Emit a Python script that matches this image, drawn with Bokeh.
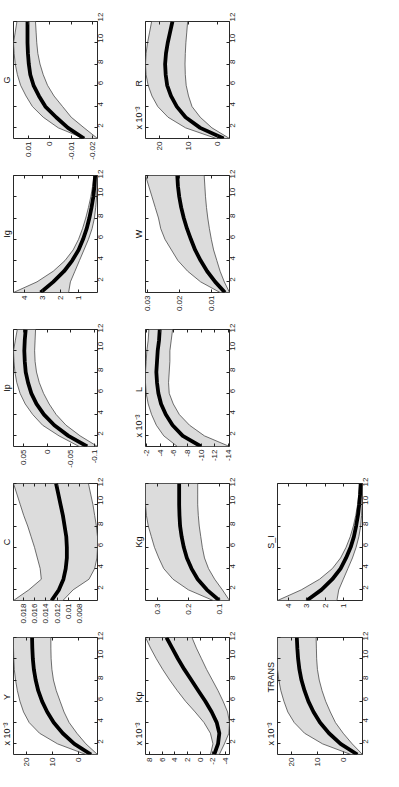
import math
from bokeh.plotting import figure
from bokeh.layouts import row, column
from bokeh.models import (Range1d, FixedTicker, Spacer, PrintfTickFormatter,
                          LinearAxis, CustomJSTickFormatter)
from bokeh.embed import file_html
from bokeh.resources import INLINE

# horizon (quarters) and its ticks
H = list(range(1, 13))
H_ticks = [2, 4, 6, 8, 10, 12]

# ---- row 1 of original figure ----
Y_hi = [-3.0, 8.0, 15.0, 19.0, 21.2, 22.6, 23.6, 24.3, 24.8, 25.0, 25.1, 25.1]
Y_med = [-5.0, 1.5, 6.0, 9.5, 12.0, 14.0, 15.5, 16.5, 17.2, 17.6, 17.8, 17.9]
Y_lo = [-7.5, -3.0, 0.5, 3.5, 5.5, 7.0, 8.5, 9.6, 10.2, 10.5, 10.6, 10.6]
Y_ticks = [0, 10, 20]

C_hi = [0.0197, 0.0170, 0.0148, 0.0150, 0.0155, 0.0160, 0.0166, 0.0172, 0.0179, 0.0185, 0.0191, 0.0197]
C_med = [0.0130, 0.0117, 0.0109, 0.0105, 0.0103, 0.0103, 0.0104, 0.0107, 0.0110, 0.0114, 0.0118, 0.0122]
C_lo = [0.0110, 0.0092, 0.0064, 0.0054, 0.0050, 0.0049, 0.0049, 0.0051, 0.0054, 0.0057, 0.0061, 0.0065]
C_ticks = [0.008, 0.01, 0.012, 0.014, 0.016, 0.018]

Ip_hi = [-0.068, -0.025, 0.010, 0.031, 0.047, 0.058, 0.065, 0.069, 0.071, 0.072, 0.068, 0.064]
Ip_med = [-0.085, -0.045, -0.015, 0.007, 0.023, 0.034, 0.041, 0.046, 0.048, 0.049, 0.048, 0.046]
Ip_lo = [-0.107, -0.070, -0.040, -0.019, -0.004, 0.008, 0.017, 0.023, 0.026, 0.027, 0.026, 0.025]
Ip_ticks = [-0.1, -0.05, 0, 0.05]

Ig_hi = [4.6, 3.3, 2.4, 1.75, 1.3, 1.0, 0.78, 0.6, 0.45, 0.32, 0.22, 0.15]
Ig_med = [3.1, 2.4, 1.8, 1.35, 1.0, 0.75, 0.55, 0.4, 0.28, 0.18, 0.12, 0.08]
Ig_lo = [1.55, 1.45, 1.2, 0.95, 0.7, 0.45, 0.25, 0.12, 0.05, 0.0, -0.03, -0.05]
Ig_ticks = [1, 2, 3, 4]

G_hi = [-0.016, -0.004, 0.003, 0.008, 0.011, 0.0135, 0.015, 0.016, 0.0165, 0.0168, 0.0160, 0.0152]
G_med = [-0.016, -0.0085, -0.003, 0.002, 0.005, 0.0075, 0.009, 0.0097, 0.0101, 0.0103, 0.0103, 0.0103]
G_lo = [-0.0222, -0.016, -0.010, -0.006, -0.002, 0.001, 0.003, 0.0045, 0.0055, 0.006, 0.0063, 0.0066]
G_ticks = [-0.02, -0.01, 0, 0.01]

# ---- row 2 ----
Kp_hi = [-1.6, -2.0, -1.6, -0.6, 0.8, 2.3, 3.6, 4.8, 5.9, 6.9, 7.8, 8.6]
Kp_med = [-2.2, -2.8, -3.0, -2.6, -1.8, -0.8, 0.3, 1.4, 2.5, 3.5, 4.4, 5.3]
Kp_lo = [-3.0, -3.8, -4.5, -4.6, -4.3, -3.6, -2.8, -1.9, -1.0, -0.2, 0.6, 1.3]
Kp_ticks = [-4, -2, 0, 2, 4, 6, 8]

Kg_hi = [0.12, 0.20, 0.25, 0.28, 0.296, 0.31, 0.32, 0.33, 0.336, 0.339, 0.339, 0.339]
Kg_med = [0.10, 0.14, 0.17, 0.19, 0.205, 0.215, 0.222, 0.227, 0.229, 0.230, 0.230, 0.230]
Kg_lo = [0.067, 0.09, 0.115, 0.135, 0.148, 0.155, 0.16, 0.165, 0.168, 0.17, 0.17, 0.17]
Kg_ticks = [0.1, 0.2, 0.3]

L_hi = [-6.5, -4.5, -3.4, -2.7, -2.2, -1.9, -1.8, -1.8, -1.9, -2.0, -2.2, -2.3]
L_med = [-10.0, -7.3, -5.8, -4.8, -4.1, -3.7, -3.5, -3.4, -3.5, -3.6, -3.8, -3.9]
L_lo = [-14.2, -10.5, -8.3, -6.8, -5.9, -5.3, -5.2, -5.3, -5.4, -5.4, -5.6, -5.8]
L_ticks = [-14, -12, -10, -8, -6, -4, -2]

W_hi = [0.0075, 0.0135, 0.0175, 0.0205, 0.0225, 0.0245, 0.0258, 0.0265, 0.0275, 0.0285, 0.0295, 0.0305]
W_med = [0.006, 0.009, 0.0115, 0.0135, 0.0152, 0.0165, 0.0177, 0.0187, 0.0195, 0.0201, 0.0205, 0.0207]
W_lo = [0.0046, 0.0062, 0.0075, 0.0085, 0.0095, 0.0102, 0.0108, 0.0113, 0.0117, 0.0120, 0.0122, 0.0124]
W_ticks = [0.01, 0.02, 0.03]

R_hi = [0.5, 11.0, 17.0, 20.5, 22.5, 23.8, 24.5, 24.7, 24.5, 24.0, 23.3, 22.6]
R_med = [-2.0, 6.0, 11.0, 14.0, 16.0, 17.3, 17.8, 18.0, 17.7, 17.1, 16.3, 15.5]
R_lo = [-4.0, 2.0, 6.0, 8.8, 10.0, 10.8, 11.1, 11.2, 11.1, 10.9, 10.6, 10.3]
R_ticks = [0, 10, 20]

# ---- row 3 ----
TR_hi = [-3.0, 8.0, 15.0, 19.0, 21.5, 23.0, 24.2, 25.0, 25.5, 25.5, 25.5, 25.5]
TR_med = [-5.5, 1.0, 5.5, 9.0, 11.5, 13.5, 15.0, 16.2, 17.0, 17.5, 17.8, 18.0]
TR_lo = [-7.5, -3.5, 0.0, 3.0, 5.0, 6.8, 8.2, 9.3, 10.0, 10.3, 10.4, 10.5]
TR_ticks = [0, 10, 20]

SI_hi = [4.6, 3.3, 2.3, 1.6, 1.15, 0.85, 0.62, 0.45, 0.32, 0.22, 0.15, 0.10]
SI_med = [3.0, 2.2, 1.6, 1.15, 0.85, 0.6, 0.42, 0.3, 0.2, 0.13, 0.08, 0.05]
SI_lo = [1.35, 1.25, 1.0, 0.75, 0.5, 0.3, 0.15, 0.05, 0.0, -0.03, -0.05, -0.05]
SI_ticks = [1, 2, 3, 4]

FONT = "Liberation Sans"
EXP = "x 10\u207b\u00b3"
NB = "\u00a0"


def hidden_axis(ticks):
    return LinearAxis(ticker=FixedTicker(ticks=ticks),
                      formatter=CustomJSTickFormatter(code="return ''"),
                      axis_line_color=None, major_tick_in=3, major_tick_out=0,
                      major_tick_line_color="#222222",
                      minor_tick_line_color=None, major_label_standoff=0)


def panel(title, hi, med, lo, ticks, gap, width, height, bl, br, bt, bb):
    top = max(hi)
    bot = min(lo)
    p = figure(width=width, height=height,
               x_range=Range1d(top, bot), y_range=Range1d(H[0], H[-1]),
               y_axis_location="right", title_location="left",
               toolbar_location=None, output_backend="svg",
               min_border_left=bl, min_border_right=br,
               min_border_top=bt, min_border_bottom=bb)
    p.harea(x1=lo, x2=hi, y=H, fill_color="#dcdcdc")
    p.line(x=lo, y=H, line_color="#4a4a4a", line_width=0.8)
    p.line(x=hi, y=H, line_color="#4a4a4a", line_width=0.8)
    p.line(x=med, y=H, line_color="black", line_width=3.8)
    p.grid.visible = False
    p.outline_line_color = "#111111"
    p.outline_line_width = 0.9
    p.background_fill_color = "white"
    p.border_fill_color = "white"
    for ax in (p.xaxis[0], p.yaxis[0]):
        ax.axis_line_color = None
        ax.major_tick_in = 3
        ax.major_tick_out = 0
        ax.minor_tick_line_color = None
        ax.major_tick_line_color = "#222222"
        ax.major_label_text_font = FONT
        ax.major_label_text_font_size = "8px"
        ax.major_label_text_color = "#222222"
        ax.major_label_orientation = math.pi / 2
        ax.major_label_standoff = 3
    p.xaxis.ticker = FixedTicker(ticks=ticks)
    p.xaxis.formatter = PrintfTickFormatter(format="%g")
    p.yaxis.ticker = FixedTicker(ticks=H_ticks)
    # MATLAB-style ticks on the opposite box edges
    p.add_layout(hidden_axis(H_ticks), "left")
    p.add_layout(hidden_axis(ticks), "above")
    t = p.title
    t.text_font = FONT
    t.text_font_size = "9px"
    t.text_font_style = "normal"
    t.text_color = "#111111"
    t.standoff = 0
    t.vertical_align = "top"
    if gap is None:
        t.text = title
        t.align = "center"
    else:
        t.text = EXP + NB * gap + title
        t.align = "left"
        t.offset = 9
    return p


COLW = [127, 132, 124]
BL = [13, 18, 18]
BR = [30, 30, 21]
ROWH = [169, 154, 154, 154, 140]
BT = [21, 6, 6, 6, 6]
BB = [31, 31, 31, 31, 17]


def cell(r, c, title, hi, med, lo, ticks, gap=None):
    return panel(title, hi, med, lo, ticks, gap, COLW[c], ROWH[r], BL[c], BR[c], BT[r], BB[r])


rows = [
    row(cell(0, 0, "G", G_hi, G_med, G_lo, G_ticks),
        cell(0, 1, "R", R_hi, R_med, R_lo, R_ticks, 8),
        Spacer(width=COLW[2], height=ROWH[0])),
    row(cell(1, 0, "Ig", Ig_hi, Ig_med, Ig_lo, Ig_ticks),
        cell(1, 1, "W", W_hi, W_med, W_lo, W_ticks),
        Spacer(width=COLW[2], height=ROWH[1])),
    row(cell(2, 0, "Ip", Ip_hi, Ip_med, Ip_lo, Ip_ticks),
        cell(2, 1, "L", L_hi, L_med, L_lo, L_ticks, 9),
        Spacer(width=COLW[2], height=ROWH[2])),
    row(cell(3, 0, "C", C_hi, C_med, C_lo, C_ticks),
        cell(3, 1, "Kg", Kg_hi, Kg_med, Kg_lo, Kg_ticks),
        cell(3, 2, "S_I", SI_hi, SI_med, SI_lo, SI_ticks)),
    row(cell(4, 0, "Y", Y_hi, Y_med, Y_lo, Y_ticks, 9),
        cell(4, 1, "Kp", Kp_hi, Kp_med, Kp_lo, Kp_ticks, 8),
        cell(4, 2, "TRANS", TR_hi, TR_med, TR_lo, TR_ticks, 12)),
]

layout = column(*rows)
open("out.html", "w").write(file_html(layout, INLINE))
